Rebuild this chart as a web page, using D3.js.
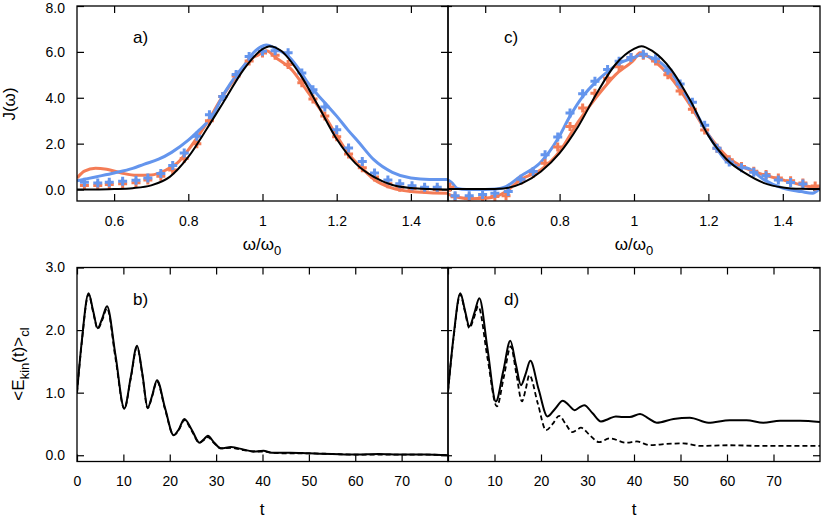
<!DOCTYPE html>
<html>
<head>
<meta charset="utf-8">
<script src="https://cdn.jsdelivr.net/npm/d3@7"></script>
<style>
  body { margin: 0; background: #fff; }
  svg { font-family: "Liberation Sans", Arial, Helvetica, sans-serif; }
  .tick text { font-size: 14px; fill: #000; }
  .tick line { stroke: #000; stroke-width: 1.2; }
</style>
</head>
<body>
<div id="chart"></div>
<script>
// ---- data ----
// panel a)
var aBlackW = [0.50,0.55,0.60,0.65,0.70,0.75,0.80,0.85,0.90,0.95,1.00,1.02,1.05,1.10,1.15,1.20,1.25,1.30,1.35,1.40,1.45,1.50];
var aBlackJ = [0.00,0.00,0.02,0.06,0.18,0.55,1.42,2.65,3.95,5.25,6.12,6.25,6.05,5.05,3.65,2.20,1.15,0.55,0.20,0.07,0.02,0.00];
var aOrangeW = [0.50,0.52,0.55,0.58,0.62,0.66,0.70,0.74,0.77,0.81,0.85,0.89,0.93,0.965,0.99,1.01,1.04,1.08,1.12,1.17,1.20,1.23,1.27,1.30,1.35,1.40,1.45,1.50];
var aOrangeJ = [0.50,0.80,0.93,0.88,0.72,0.62,0.63,0.85,1.15,1.95,2.90,4.00,4.93,5.66,5.88,6.05,5.70,5.20,4.30,3.15,2.35,1.60,0.90,0.45,0.06,-0.09,-0.14,-0.16];
var aBlueW = [0.50,0.55,0.60,0.65,0.68,0.72,0.755,0.80,0.83,0.86,0.90,0.93,0.95,0.975,1.01,1.04,1.07,1.10,1.12,1.17,1.20,1.23,1.26,1.30,1.35,1.40,1.45,1.50];
var aBlueJ = [0.38,0.55,0.72,0.92,1.10,1.32,1.62,2.15,2.60,3.10,4.28,5.00,5.40,5.95,6.30,6.10,5.80,5.20,4.70,3.75,3.20,2.60,2.05,1.30,0.75,0.50,0.44,0.44];
var aMarkW = [0.52,0.556,0.587,0.623,0.659,0.691,0.726,0.758,0.789,0.823,0.857,0.893,0.929,0.964,1.0,1.034,1.069,1.106,1.136,1.168,1.2,1.232,1.269,1.302,1.338,1.37,1.403,1.437,1.471];
var aBlueMarkJ = [0.32,0.28,0.32,0.36,0.40,0.50,0.70,1.05,1.59,2.32,3.26,4.06,5.01,5.80,6.03,6.05,5.96,5.08,4.35,3.60,2.61,1.81,1.22,0.72,0.42,0.25,0.16,0.10,0.10];
var aOrangeMarkJ = [0.18,0.18,0.22,0.25,0.30,0.42,0.58,0.85,1.35,2.00,3.00,4.05,4.95,5.60,5.95,5.85,5.45,4.65,3.95,3.20,2.30,1.55,0.95,0.55,0.25,0.10,0.04,0.02,0.00];

// panel c)
var cBlackW = [0.50,0.55,0.60,0.65,0.70,0.75,0.80,0.85,0.90,0.95,1.00,1.02,1.05,1.10,1.15,1.20,1.25,1.30,1.35,1.40,1.45,1.50];
var cBlackJ = [0.02,0.02,0.02,0.05,0.28,0.79,1.59,2.75,4.20,5.45,6.13,6.25,6.03,5.23,3.92,2.35,1.30,0.70,0.28,0.09,0.03,0.02];
var cOrangeW = [0.50,0.53,0.56,0.60,0.63,0.656,0.694,0.75,0.80,0.85,0.90,0.95,1.00,1.016,1.05,1.10,1.15,1.20,1.25,1.30,1.35,1.40,1.45,1.50];
var cOrangeJ = [-0.20,-0.35,-0.40,-0.38,-0.30,-0.09,0.42,0.86,1.66,2.95,4.05,5.00,5.66,5.96,5.66,4.86,3.70,2.39,1.44,0.93,0.64,0.42,0.20,0.06];
var cBlueW = [0.50,0.51,0.525,0.55,0.60,0.63,0.656,0.694,0.75,0.795,0.828,0.862,0.895,0.93,0.96,1.00,1.016,1.05,1.10,1.15,1.20,1.25,1.28,1.31,1.35,1.40,1.45,1.48,1.50];
var cBlueJ = [0.42,0.30,0.05,0.00,0.00,0.02,0.13,0.57,1.20,2.20,3.20,4.05,4.65,5.15,5.50,5.75,5.85,5.74,5.08,3.84,2.39,1.22,1.02,0.90,0.42,0.06,-0.09,-0.16,0.06];
var cBlueMarkW = [0.519,0.557,0.593,0.626,0.662,0.696,0.729,0.761,0.795,0.828,0.862,0.895,0.929,0.96,0.992,1.025,1.058,1.091,1.124,1.157,1.19,1.223,1.256,1.289,1.322,1.355,1.388,1.421,1.454];
var cBlueMarkJ = [-0.27,-0.27,-0.22,-0.16,-0.09,0.45,0.79,1.52,2.29,3.34,4.18,4.72,5.23,5.59,5.75,5.90,5.70,5.20,4.60,3.80,2.80,1.80,1.20,0.95,0.75,0.60,0.42,0.31,0.24];
var cOrangeMarkW = [0.505,0.519,0.557,0.593,0.626,0.656,0.696,0.729,0.761,0.795,0.828,0.862,0.895,0.929,0.96,0.992,1.025,1.058,1.091,1.124,1.157,1.19,1.223,1.256,1.289,1.322,1.355,1.388,1.421,1.454,1.487];
var cOrangeMarkJ = [0.10,-0.32,-0.36,-0.36,-0.30,-0.27,0.40,0.70,1.15,1.85,2.75,3.55,4.20,4.85,5.35,5.75,5.85,5.60,5.00,4.30,3.50,2.60,1.80,1.30,1.00,0.80,0.65,0.50,0.38,0.28,0.15];

// panel b)
var bT = [0,1,2.5,3.5,4.46,5.5,6.47,8.3,10.2,11.6,12.94,14.1,15.24,16.2,17.25,19,20.85,22,23.14,24.8,26.4,27.3,28.2,29.6,31.05,33.2,36,38,40.2,42,46,50,55,60,65,70,75,80];
var bSolid = [1.0,1.8,2.59,2.3,2.03,2.2,2.38,1.6,0.75,1.25,1.75,1.3,0.76,0.95,1.2,0.75,0.32,0.42,0.58,0.4,0.2,0.25,0.31,0.2,0.11,0.13,0.09,0.06,0.07,0.04,0.04,0.03,0.02,0.01,0.02,0.01,0.01,0.0];
var bDashed = [1.0,1.78,2.57,2.28,2.02,2.17,2.35,1.55,0.74,1.23,1.73,1.28,0.75,0.94,1.18,0.73,0.32,0.41,0.56,0.38,0.2,0.24,0.29,0.19,0.11,0.12,0.08,0.06,0.06,0.04,0.03,0.03,0.02,0.01,0.01,0.01,0.01,0.0];

// panel d)
var dSolidT = [0,1.2,2.65,3.6,4.59,5.7,6.74,8.5,10.3,11.9,13.4,14.6,15.7,16.7,17.7,19.5,21.4,23,24.7,26,27.2,28.2,29.3,31.1,32.9,34.5,36.1,37.6,39.1,41.3,43.1,44.9,48.5,52,56,60.6,64.2,67.8,71.4,75.7,80];
var dSolid = [1.02,1.9,2.59,2.33,2.06,2.28,2.51,1.7,0.86,1.35,1.83,1.45,1.12,1.3,1.51,1.05,0.62,0.74,0.87,0.8,0.72,0.76,0.8,0.67,0.54,0.58,0.62,0.61,0.61,0.66,0.59,0.52,0.58,0.6,0.52,0.56,0.56,0.52,0.55,0.55,0.53];
var dDashedT = [0,1.2,2.65,3.6,4.59,5.6,6.5,8.5,10.5,12,13.5,14.7,15.9,16.7,17.5,19.3,21.1,22.5,23.9,25.3,26.7,27.6,28.6,30.5,32.5,34.8,38.4,40.6,43.4,47,50.6,54.2,60.6,67.1,73,80];
var dDashed = [1.02,1.88,2.57,2.31,2.03,2.2,2.38,1.55,0.78,1.25,1.74,1.3,0.86,1.05,1.28,0.83,0.4,0.5,0.63,0.5,0.37,0.4,0.44,0.32,0.21,0.27,0.2,0.22,0.16,0.18,0.19,0.15,0.16,0.15,0.15,0.15];

// ticks
var wTicks = [0.6,0.8,1.0,1.2,1.4];
var jTicks = [0,2,4,6,8];
var tTicks = [0,10,20,30,40,50,60,70];
var eTicks = [0,1,2,3];

var ORANGE = "#f47c56", BLUE = "#6495ed";

var svg = d3.select("#chart").append("svg")
  .attr("width", 822).attr("height", 518);

function zip(xs, ys) { return xs.map(function(x, i) { return [x, ys[i]]; }); }

var panels = [
  {id: "a", x0: 77, x1: 448, y0: 6, y1: 201, xd: [0.5,1.5], yd: [-0.5,8], xt: wTicks, yt: jTicks, left: true, lab: "a)"},
  {id: "c", x0: 448, x1: 820, y0: 6, y1: 201, xd: [0.5,1.5], yd: [-0.5,8], xt: wTicks, yt: jTicks, left: false, lab: "c)"},
  {id: "b", x0: 77, x1: 448, y0: 267.5, y1: 461.5, xd: [0,80], yd: [-0.1,3], xt: tTicks, yt: eTicks, left: true, lab: "b)"},
  {id: "d", x0: 448, x1: 820, y0: 267.5, y1: 461.5, xd: [0,80], yd: [-0.1,3], xt: tTicks, yt: eTicks, left: false, lab: "d)"}
];

panels.forEach(function(p) {
  p.x = d3.scaleLinear().domain(p.xd).range([p.x0, p.x1]);
  p.y = d3.scaleLinear().domain(p.yd).range([p.y1, p.y0]);
  var w = p.x1 - p.x0, h = p.y1 - p.y0;
  var g = svg.append("g");
  var xfmt = p.id === "a" || p.id === "c"
    ? function(d) { return d === 1 ? "1" : d3.format(".1f")(d); }
    : d3.format("d");

  g.append("g").attr("transform", "translate(0," + p.y1 + ")")
    .call(d3.axisBottom(p.x).tickValues(p.xt).tickSizeInner(-7).tickSizeOuter(0).tickPadding(15).tickFormat(xfmt))
    .call(function(s) { s.select(".domain").remove(); });
  g.append("g").attr("transform", "translate(0," + p.y0 + ")")
    .call(d3.axisTop(p.x).tickValues(p.xt).tickSizeInner(-7).tickSizeOuter(0).tickFormat(""))
    .call(function(s) { s.select(".domain").remove(); });
  g.append("g").attr("transform", "translate(" + p.x0 + ",0)")
    .call(d3.axisLeft(p.y).tickValues(p.yt).tickSizeInner(p.left ? -7 : -4).tickSizeOuter(0).tickPadding(12)
      .tickFormat(p.left ? d3.format(".1f") : ""))
    .call(function(s) {
      s.select(".domain").remove();
      // keep the topmost label inside the picture
      s.selectAll(".tick text").filter(function(d) { return d === 8; }).attr("dy", "0.45em");
    });
  g.append("g").attr("transform", "translate(" + p.x1 + ",0)")
    .call(d3.axisRight(p.y).tickValues(p.yt).tickSizeInner(-7).tickSizeOuter(0).tickFormat(""))
    .call(function(s) { s.select(".domain").remove(); });

  svg.append("clipPath").attr("id", "clip-" + p.id)
    .append("rect").attr("x", p.x0).attr("y", p.y0).attr("width", w).attr("height", h);
  p.plot = svg.append("g").attr("clip-path", "url(#clip-" + p.id + ")");

  p.frame = function() {
    svg.append("rect").attr("x", p.x0).attr("y", p.y0).attr("width", w).attr("height", h)
      .attr("fill", "none").attr("stroke", "#000").attr("stroke-width", 1.3);
  };

  svg.append("text").attr("x", p.x0 + 56).attr("y", p.y0 + 37)
    .attr("font-size", 17).text(p.lab);
});

function drawLine(p, xs, ys, color, width, dash) {
  var line = d3.line().x(function(d) { return p.x(d[0]); }).y(function(d) { return p.y(d[1]); })
    .curve(d3.curveMonotoneX);
  var path = p.plot.append("path").datum(zip(xs, ys))
    .attr("d", line).attr("fill", "none").attr("stroke", color)
    .attr("stroke-width", width).attr("stroke-linejoin", "round");
  if (dash) path.attr("stroke-dasharray", dash);
}

function drawPlus(p, xs, ys, color) {
  p.plot.append("g").selectAll("path").data(zip(xs, ys)).enter().append("path")
    .attr("transform", function(d) { return "translate(" + p.x(d[0]) + "," + p.y(d[1]) + ")"; })
    .attr("d", "M-4.5,0H4.5M0,-4.5V4.5")
    .attr("stroke", color).attr("stroke-width", 3).attr("fill", "none");
}

var pa = panels[0], pc = panels[1], pb = panels[2], pd = panels[3];

drawLine(pa, aOrangeW, aOrangeJ, ORANGE, 3);
drawLine(pa, aBlueW, aBlueJ, BLUE, 3);
drawPlus(pa, aMarkW, aOrangeMarkJ, ORANGE);
drawPlus(pa, aMarkW, aBlueMarkJ, BLUE);
drawLine(pa, aBlackW, aBlackJ, "#000", 2);

drawLine(pc, cOrangeW, cOrangeJ, ORANGE, 3);
drawLine(pc, cBlueW, cBlueJ, BLUE, 3);
drawPlus(pc, cOrangeMarkW, cOrangeMarkJ, ORANGE);
drawPlus(pc, cBlueMarkW, cBlueMarkJ, BLUE);
drawLine(pc, cBlackW, cBlackJ, "#000", 2);

drawLine(pb, bT, bDashed, "#000", 1.8, "5,3");
drawLine(pb, bT, bSolid, "#000", 2);

drawLine(pd, dDashedT, dDashed, "#000", 1.8, "5,3");
drawLine(pd, dSolidT, dSolid, "#000", 2);

panels.forEach(function(p) { p.frame(); });

// axis titles
function omegaTitle(cx) {
  var t = svg.append("text").attr("x", cx).attr("y", 250).attr("text-anchor", "middle").attr("font-size", 17);
  t.append("tspan").text("\u03c9/\u03c9");
  t.append("tspan").attr("dy", 5).attr("font-size", 13).text("0");
}
omegaTitle(262);
omegaTitle(634);

svg.append("text").attr("x", 262).attr("y", 515).attr("text-anchor", "middle").attr("font-size", 17).text("t");
svg.append("text").attr("x", 634).attr("y", 515).attr("text-anchor", "middle").attr("font-size", 17).text("t");

svg.append("text").attr("transform", "translate(15,104) rotate(-90)")
  .attr("text-anchor", "middle").attr("font-size", 17).text("J(\u03c9)");

var et = svg.append("text").attr("transform", "translate(24,364) rotate(-90)")
  .attr("text-anchor", "middle").attr("font-size", 17);
et.append("tspan").text("<E");
et.append("tspan").attr("dy", 5).attr("font-size", 13).text("kin");
et.append("tspan").attr("dy", -5).text("(t)>");
et.append("tspan").attr("dy", 5).attr("font-size", 13).text("cl");
</script>
</body>
</html>
